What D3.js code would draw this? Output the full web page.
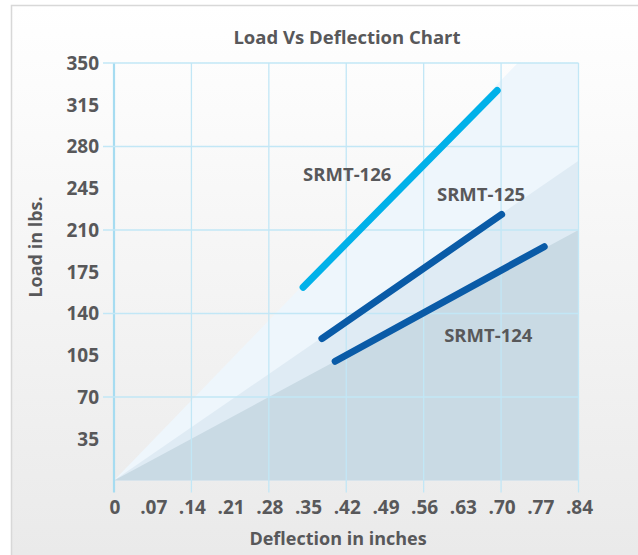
<!DOCTYPE html>
<html>
<head>
<meta charset="utf-8">
<script src="https://cdn.jsdelivr.net/npm/d3@7"></script>
<style>
  body { margin: 0; background: #fff; }
  text { font-family: "Open Sans", "Liberation Sans", sans-serif; font-weight: 700; fill: #58585a; }
</style>
</head>
<body>
<script>
// chart values
var xTicks = [0, .07, .14, .21, .28, .35, .42, .49, .56, .63, .70, .77, .84];
var xTickLabels = ["0", ".07", ".14", ".21", ".28", ".35", ".42", ".49", ".56", ".63", ".70", ".77", ".84"];
var xGrid = [0, .14, .28, .42, .56, .70, .84];
var yTicks = [35, 70, 105, 140, 175, 210, 245, 280, 315, 350];
var yGrid = [70, 140, 210, 280, 350];

var seriesNames = ["SRMT-126", "SRMT-125", "SRMT-124"];
var srmt126 = [[0.342, 162], [0.693, 327]];
var srmt125 = [[0.376, 119], [0.701, 223]];
var srmt124 = [[0.400, 100], [0.778, 196]];
var labelAt = [[0.342, 251], [0.584, 234], [0.597, 116]];

// shaded wedges from the origin: corner where each one meets the plot edge
var zoneTops = [[0.73, 350], [0.84, 268], [0.84, 210]];

var W = 638, H = 555;

var svg = d3.select("body").append("svg")
    .attr("width", W)
    .attr("height", H);

var defs = svg.append("defs");
var grad = defs.append("linearGradient")
    .attr("id", "bg")
    .attr("x1", 0).attr("y1", 0).attr("x2", 0).attr("y2", 1);
grad.append("stop").attr("offset", "0%").attr("stop-color", "#ffffff");
grad.append("stop").attr("offset", "100%").attr("stop-color", "#e8e8e8");

// outer panel
svg.append("rect")
    .attr("x", 11.5).attr("y", 5.5)
    .attr("width", 700).attr("height", 600)
    .attr("fill", "url(#bg)")
    .attr("stroke", "#d8d8d8")
    .attr("stroke-width", 1.5);

var x = d3.scaleLinear().domain([0, 0.84]).range([114, 578.5]);
var y = d3.scaleLinear().domain([0, 350]).range([480.5, 63]);

// wedges, lightest first
var zoneColors = ["#eef6fc", "#dfebf4", "#c9dae4"];
var zones = svg.append("g").attr("id", "zones");
zoneTops.forEach(function(t, i) {
  var pts = [[0, 0], t];
  if (t[0] < 0.84) pts.push([0.84, 350]);
  pts.push([0.84, 0]);
  zones.append("path")
    .attr("fill", zoneColors[i])
    .attr("d", "M" + pts.map(function(p) { return x(p[0]) + "," + y(p[1]); }).join("L") + "Z");
});

// grid
var grid = svg.append("g").attr("id", "grid");
grid.selectAll(".vgrid")
  .data(xGrid)
  .enter().append("line")
    .attr("class", "vgrid")
    .attr("x1", function(d) { return x(d); })
    .attr("x2", function(d) { return x(d); })
    .attr("y1", y(350))
    .attr("y2", y(0) + 12)
    .attr("stroke", function(d) { return d === 0 ? "#a6dcf1" : "#c2e7f6"; })
    .attr("stroke-width", function(d) { return d === 0 ? 2.2 : 1.3; });

grid.selectAll(".hgrid")
  .data(yGrid)
  .enter().append("line")
    .attr("class", "hgrid")
    .attr("x1", x(0) - 11)
    .attr("x2", x(0.84))
    .attr("y1", function(d) { return y(d); })
    .attr("y2", function(d) { return y(d); })
    .attr("stroke", "#c2e7f6")
    .attr("stroke-width", 1.3);

// load lines
var seriesData = [srmt126, srmt125, srmt124];
var seriesColors = ["#00b1e9", "#0a5ba7", "#0a5ba7"];
var line = d3.line()
    .x(function(d) { return x(d[0]); })
    .y(function(d) { return y(d[1]); });

svg.append("g").attr("id", "lines")
  .selectAll("path")
  .data(seriesData)
  .enter().append("path")
    .attr("d", line)
    .attr("fill", "none")
    .attr("stroke", function(d, i) { return seriesColors[i]; })
    .attr("stroke-width", 7)
    .attr("stroke-linecap", "round");

svg.append("g").attr("id", "series-labels")
  .selectAll("text")
  .data(seriesNames)
  .enter().append("text")
    .attr("x", function(d, i) { return x(labelAt[i][0]); })
    .attr("y", function(d, i) { return y(labelAt[i][1]); })
    .style("font-size", "18.5px")
    .text(function(d) { return d; });

// tick labels
svg.append("g").attr("id", "yticks")
  .selectAll("text")
  .data(yTicks)
  .enter().append("text")
    .attr("x", 99)
    .attr("y", function(d) { return y(d); })
    .attr("dy", "0.36em")
    .style("text-anchor", "end")
    .style("font-size", "19px")
    .text(function(d) { return d; });

svg.append("g").attr("id", "xticks")
  .selectAll("text")
  .data(xTicks)
  .enter().append("text")
    .attr("x", function(d) { return x(d) + 1; })
    .attr("y", 514)
    .style("text-anchor", "middle")
    .style("font-size", "19px")
    .text(function(d, i) { return xTickLabels[i]; });

// titles
svg.append("text")
    .attr("x", 347)
    .attr("y", 44)
    .style("text-anchor", "middle")
    .style("font-size", "18.5px")
    .text("Load Vs Deflection Chart");

svg.append("text")
    .attr("x", 338)
    .attr("y", 545)
    .style("text-anchor", "middle")
    .style("font-size", "18px")
    .text("Deflection in inches");

svg.append("text")
    .attr("transform", "translate(42,247) rotate(-90)")
    .style("text-anchor", "middle")
    .style("font-size", "18px")
    .text("Load in lbs.");
</script>
</body>
</html>
